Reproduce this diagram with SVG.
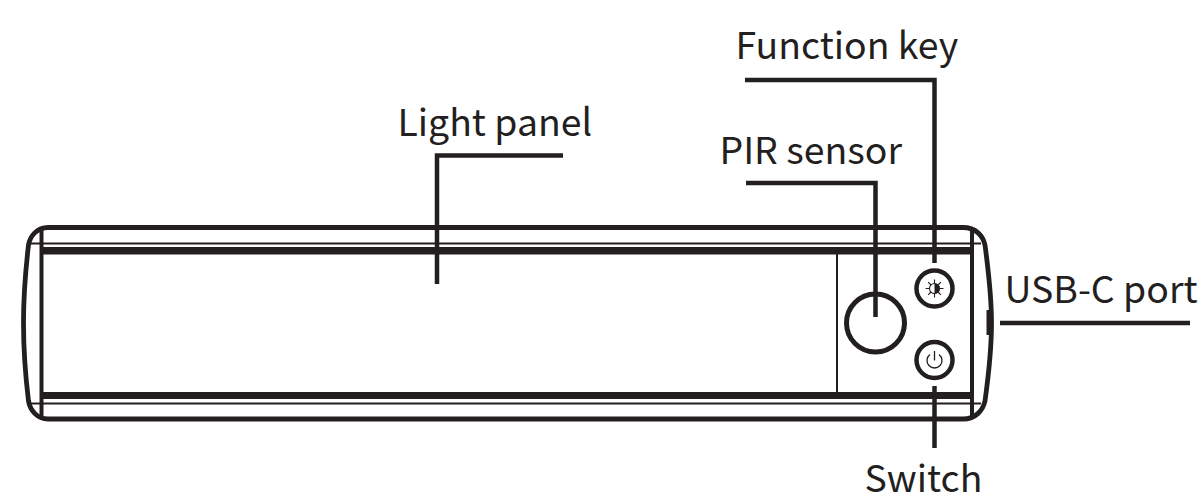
<svg xmlns="http://www.w3.org/2000/svg" width="1201" height="501" viewBox="0 0 1201 501">
<style>
.l{fill:none;stroke:#231f20;stroke-width:4.5}
.t{fill:none;stroke:#231f20;stroke-width:2}
.k{fill:none;stroke:#231f20;stroke-width:4}
.i{fill:none;stroke:#231f20;stroke-width:1.1}
text{font-family:"Noto Sans CJK SC","Noto Sans",sans-serif;font-size:37.4px;fill:#231f20}
</style>
<rect width="1201" height="501" fill="#fff"/>
<g id="housing">
<path class="l" style="stroke-width:4.8" d="M48 227.500H963C976 227.500 983 236 985 245C989 275 991.500 300 991.500 323C991.500 346 989 372 985 401C983 410 976 419 963 419H48C37 419 30 410 28.500 401C25 372 23.500 346 23.500 323C23.500 300 25 275 28.500 245C30 236 37 227.500 48 227.500Z"/>
<path class="t" d="M29 243.500H981M29 403.500H981"/>
<path d="M41 247H973V254.500H41ZM41 392H973V399H41Z" fill="#231f20"/>
<path class="k" d="M41.500 230V417M972 229V417"/>
<path d="M837 254V392" class="t"/>
<path d="M986.500 310H991V335H986.500Z" fill="#231f20"/>
</g>
<g id="pir-sensor"><circle class="l" style="stroke-width:5" cx="875.500" cy="323" r="29"/></g>
<g id="function-key">
<circle class="l" cx="934.500" cy="288.500" r="18"/>
<circle class="i" cx="934.500" cy="288.500" r="5"/>
<path d="M934.500 283.500A5 5 0 0 1 934.500 293.500Z" fill="#231f20"/>
<path class="i" d="M934.500 279.500V283.500M934.500 293.500V297.500M925.500 288.500H929.500M939.500 288.500H943.500M928.100 282.100L931 285M938 292L940.900 294.900M940.900 282.100L938 285M931 292L928.100 294.900"/>
</g>
<g id="switch-key">
<circle class="l" cx="934.500" cy="360" r="18"/>
<path class="i" style="stroke-width:1.3" d="M934.500 351V360.500M930 354.500A7.500 7.500 0 1 0 939 354.500"/>
</g>
<g id="connectors">
<path class="l" d="M563 155.500H437V284"/>
<path class="l" d="M746 183H875.500V317"/>
<path class="l" d="M745 80H934.500V263"/>
<path class="l" d="M1000 323H1190"/>
<path class="l" d="M934.500 386V448"/>
</g>
<g id="labels">
<text x="397.500" y="136">Light panel</text>
<text x="719.500" y="164">PIR sensor</text>
<text x="735.500" y="59">Function key</text>
<text x="1004.500" y="303">USB-C port</text>
<text x="864.500" y="492">Switch</text>
</g>
</svg>
